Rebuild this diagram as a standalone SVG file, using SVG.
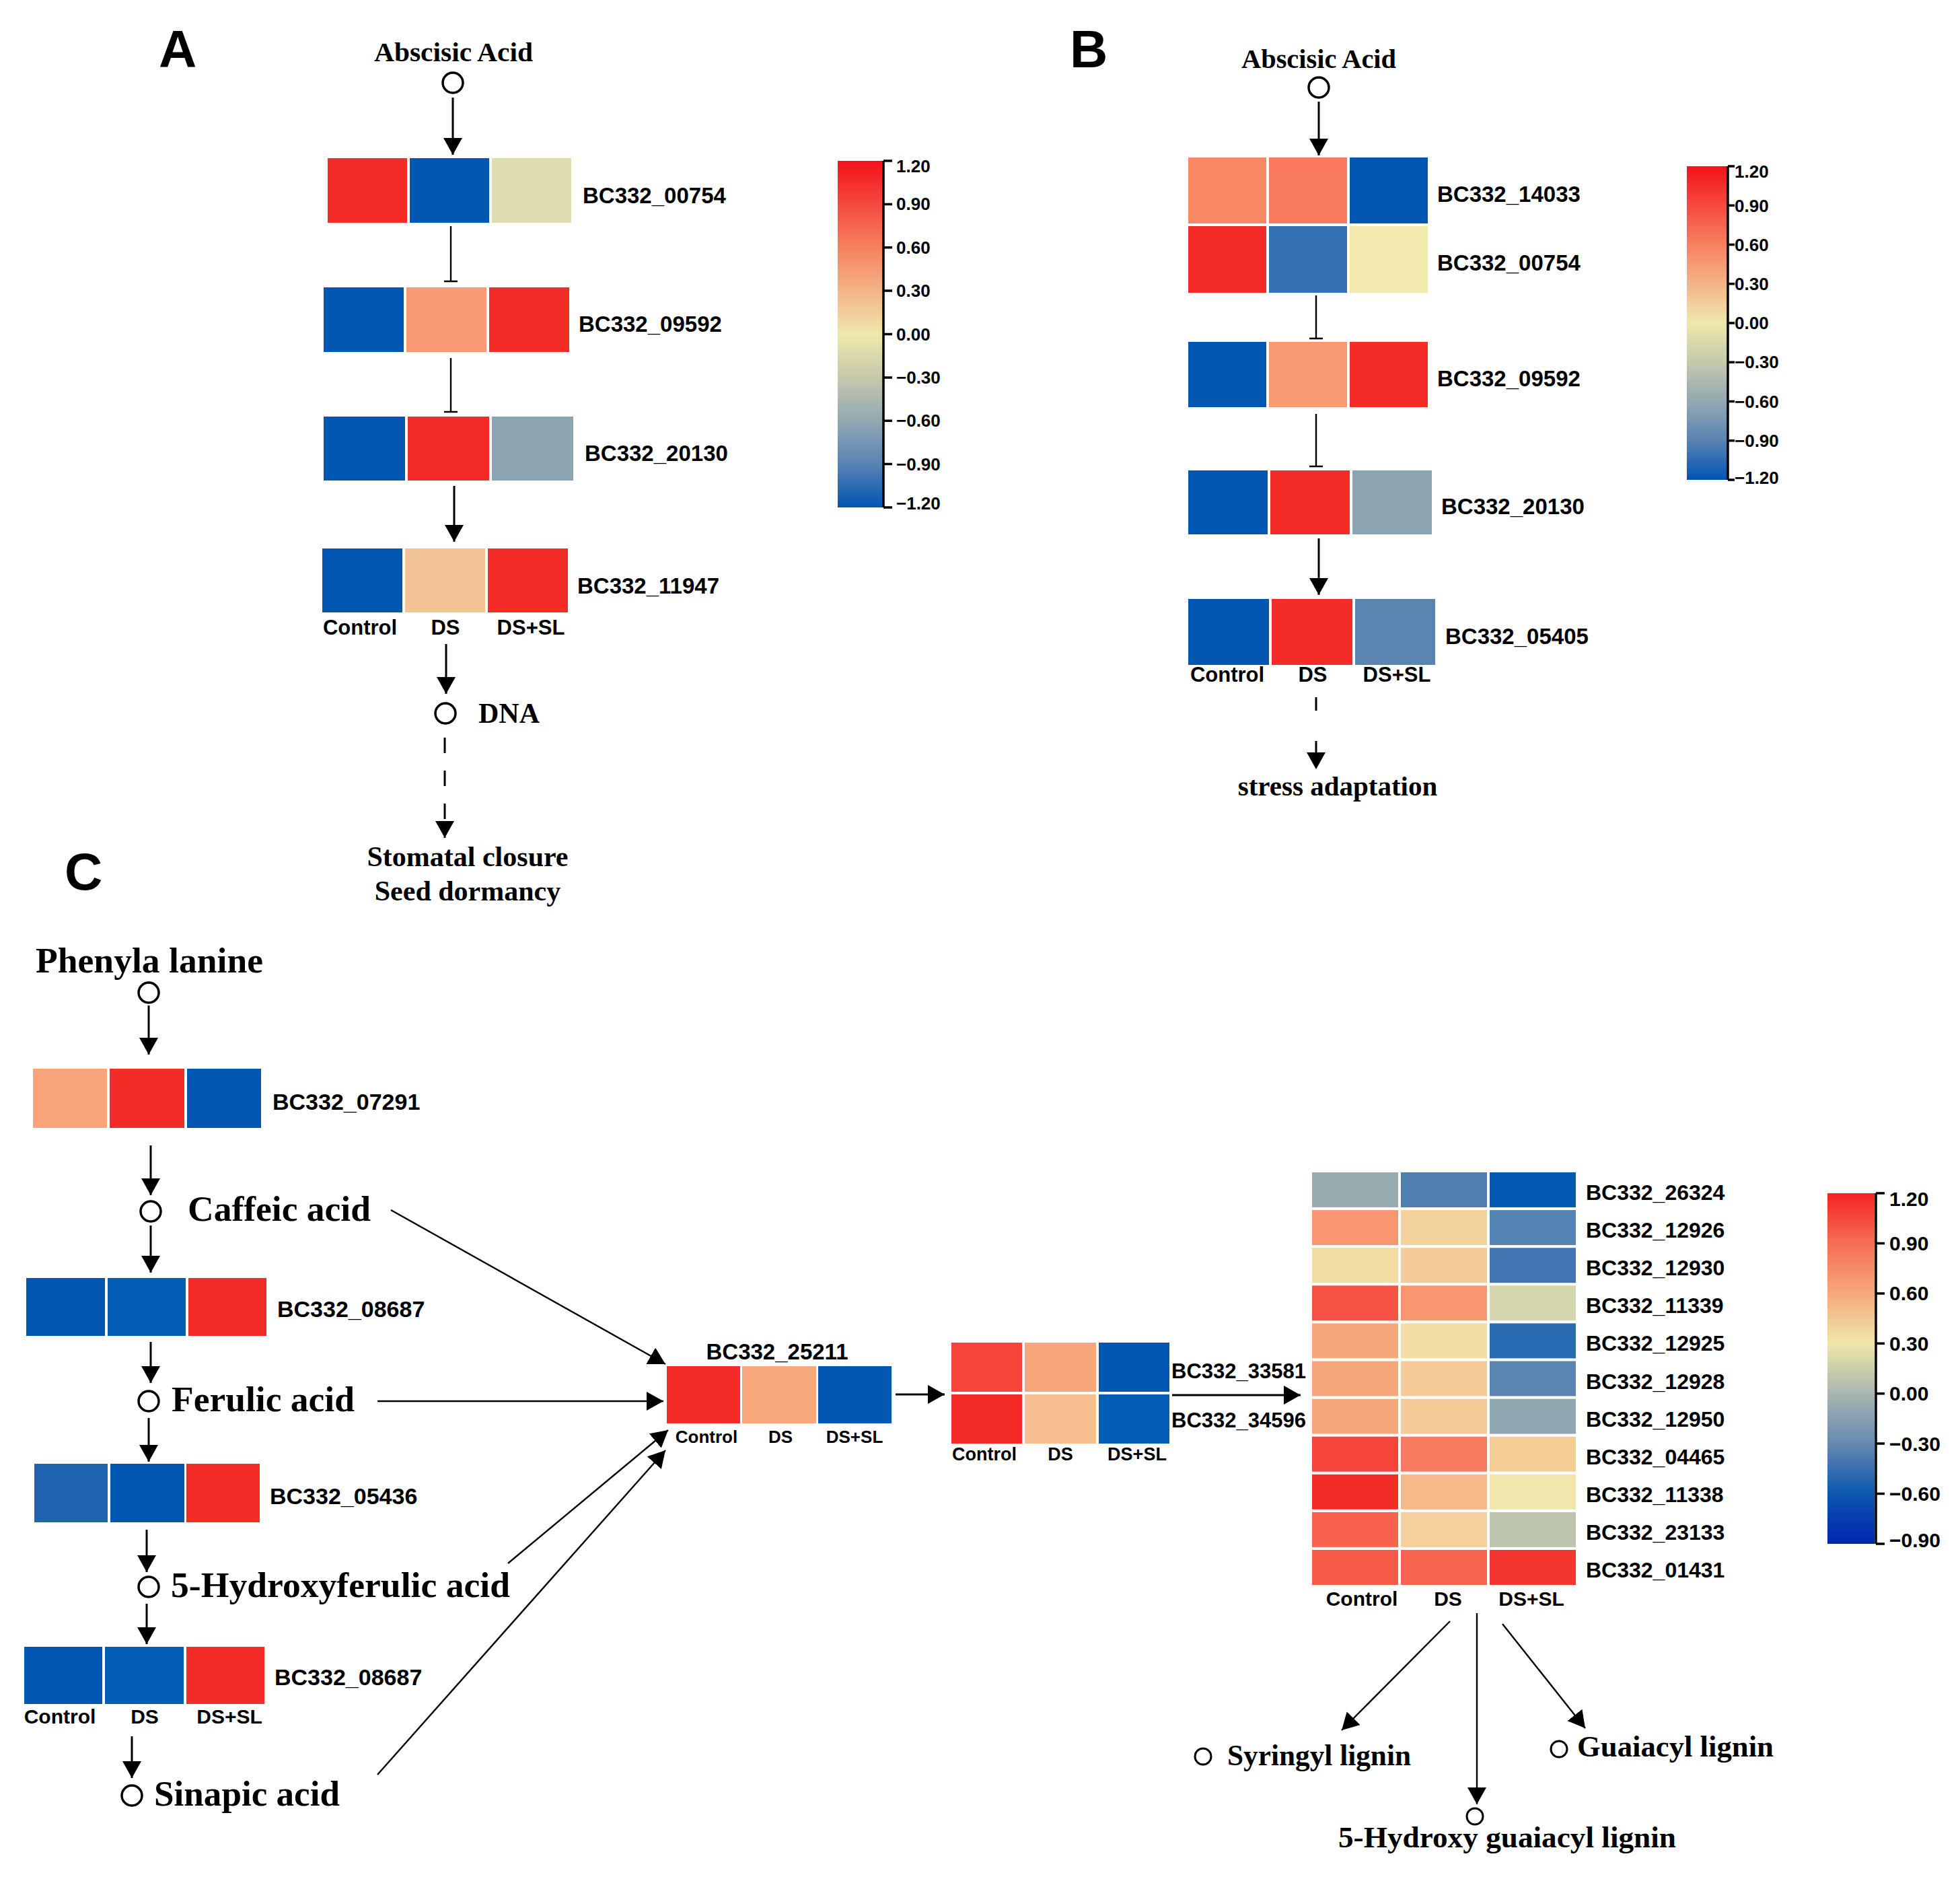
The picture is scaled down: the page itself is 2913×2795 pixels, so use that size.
<svg xmlns="http://www.w3.org/2000/svg" width="2913" height="2795" viewBox="0 0 2913 2795">
<defs>
<style>
.g{font-family:"Liberation Sans",Arial,sans-serif;font-weight:bold;fill:#000}
.s{font-family:"Liberation Serif","Times New Roman",serif;font-weight:bold;fill:#000}
.ln{stroke:#000;stroke-width:3;fill:none}
.thin{stroke:#000;stroke-width:2.4;fill:none}
.ar{marker-end:url(#ah)}
.c{fill:#fff;stroke:#000;stroke-width:3.5}
.cs{fill:#fff;stroke:#000;stroke-width:3}
.ax{stroke:#000;stroke-width:3.5;fill:none}
</style>
<marker id="ah" markerUnits="userSpaceOnUse" markerWidth="26" markerHeight="30" refX="25" refY="14" orient="auto"><path d="M0,0 L25,14 L0,28 Z" fill="#000"/></marker>
<linearGradient id="gAB" x1="0" y1="0" x2="0" y2="1">
<stop offset="0" stop-color="#F4111A"/><stop offset="0.125" stop-color="#F54A3E"/><stop offset="0.25" stop-color="#F7815E"/><stop offset="0.375" stop-color="#F4B487"/><stop offset="0.5" stop-color="#EFE8AB"/><stop offset="0.625" stop-color="#C5C8AC"/><stop offset="0.75" stop-color="#93A8B2"/><stop offset="0.875" stop-color="#5883B3"/><stop offset="1" stop-color="#0254B3"/>
</linearGradient>
<linearGradient id="gC" x1="0" y1="0" x2="0" y2="1">
<stop offset="0" stop-color="#F42422"/><stop offset="0.143" stop-color="#F76D55"/><stop offset="0.286" stop-color="#F5A87E"/><stop offset="0.429" stop-color="#EFE7A9"/><stop offset="0.571" stop-color="#A8B6AF"/><stop offset="0.714" stop-color="#6689B1"/><stop offset="0.857" stop-color="#0B57B0"/><stop offset="1" stop-color="#0224B0"/>
</linearGradient>
</defs>
<rect width="2913" height="2795" fill="#fff"/>

<!-- Panel letters -->
<g id="panel-A"><text class="g" x="236" y="100" font-size="78">A</text></g>
<g id="panel-B"><text class="g" x="1590" y="100" font-size="78">B</text></g>
<g id="panel-C"><text class="g" x="96" y="1322" font-size="78">C</text></g>

<!-- ================= Panel A ================= -->
<g id="A-aba"><text class="s" x="674" y="91" font-size="41" text-anchor="middle" textLength="236" lengthAdjust="spacingAndGlyphs">Abscisic Acid</text><circle class="c" cx="673" cy="123" r="15"/></g>
<g id="A-00754">
<rect x="487" y="235" width="118" height="96" fill="#F42C27"/><rect x="609" y="235" width="118" height="96" fill="#0257B3"/><rect x="731" y="235" width="118" height="96" fill="#DDDDAF"/>
<text class="g" x="866" y="302" font-size="33">BC332_00754</text></g>
<g id="A-09592">
<rect x="481" y="427" width="119" height="96" fill="#0257B3"/><rect x="604" y="427" width="119" height="96" fill="#F89B74"/><rect x="727" y="427" width="119" height="96" fill="#F42C27"/>
<text class="g" x="860" y="493" font-size="33">BC332_09592</text></g>
<g id="A-20130">
<rect x="481" y="619" width="121" height="95" fill="#0257B3"/><rect x="606" y="619" width="121" height="95" fill="#F42C27"/><rect x="731" y="619" width="121" height="95" fill="#8AA4B1"/>
<text class="g" x="869" y="685" font-size="33">BC332_20130</text></g>
<g id="A-11947">
<rect x="479" y="815" width="119" height="95" fill="#0257B3"/><rect x="602" y="815" width="119" height="95" fill="#F3C594"/><rect x="725" y="815" width="119" height="95" fill="#F42C27"/>
<text class="g" x="858" y="882" font-size="33">BC332_11947</text>
<text class="g" x="535" y="943" font-size="31" text-anchor="middle">Control</text><text class="g" x="662" y="943" font-size="31" text-anchor="middle">DS</text><text class="g" x="789" y="943" font-size="31" text-anchor="middle">DS+SL</text></g>
<g id="A-dna"><circle class="c" cx="662" cy="1060" r="15"/><text class="s" x="711" y="1074" font-size="42">DNA</text></g>
<g id="A-outcome"><text class="s" x="695" y="1287" font-size="42" text-anchor="middle">Stomatal closure</text><text class="s" x="695" y="1338" font-size="42" text-anchor="middle">Seed dormancy</text></g>
<g id="A-colorbar">
<rect x="1245" y="239" width="67" height="515" fill="url(#gAB)"/>
<path class="ax" d="M1313,239 V754 M1313,239 H1326 M1313,303.4 H1326 M1313,367.8 H1326 M1313,432.1 H1326 M1313,496.5 H1326 M1313,560.9 H1326 M1313,625.3 H1326 M1313,689.6 H1326 M1313,754 H1326"/>
<g class="g" font-size="26"><text x="1332" y="256">1.20</text><text x="1332" y="312">0.90</text><text x="1332" y="377">0.60</text><text x="1332" y="441">0.30</text><text x="1332" y="506">0.00</text><text x="1332" y="570">−0.30</text><text x="1332" y="634">−0.60</text><text x="1332" y="699">−0.90</text><text x="1332" y="757">−1.20</text></g>
</g>

<!-- ================= Panel B ================= -->
<g id="B-aba"><text class="s" x="1960" y="101" font-size="40" text-anchor="middle" textLength="230" lengthAdjust="spacingAndGlyphs">Abscisic Acid</text><circle class="c" cx="1960" cy="130" r="15"/></g>
<g id="B-14033">
<rect x="1766" y="234" width="116" height="98" fill="#F98865"/><rect x="1886" y="234" width="116" height="98" fill="#F97A5F"/><rect x="2006" y="234" width="116" height="98" fill="#0257B3"/>
<text class="g" x="2136" y="300" font-size="33">BC332_14033</text></g>
<g id="B-00754">
<rect x="1766" y="336" width="116" height="99" fill="#F42C27"/><rect x="1886" y="336" width="116" height="99" fill="#3672B3"/><rect x="2006" y="336" width="116" height="99" fill="#F2E9AC"/>
<text class="g" x="2136" y="402" font-size="33">BC332_00754</text></g>
<g id="B-09592">
<rect x="1766" y="508" width="116" height="97" fill="#0257B3"/><rect x="1886" y="508" width="116" height="97" fill="#F89B74"/><rect x="2006" y="508" width="116" height="97" fill="#F42C27"/>
<text class="g" x="2136" y="574" font-size="33">BC332_09592</text></g>
<g id="B-20130">
<rect x="1766" y="699" width="118" height="95" fill="#0257B3"/><rect x="1888" y="699" width="118" height="95" fill="#F42C27"/><rect x="2010" y="699" width="118" height="95" fill="#8AA4B1"/>
<text class="g" x="2142" y="764" font-size="33">BC332_20130</text></g>
<g id="B-05405">
<rect x="1766" y="890" width="120" height="98" fill="#0257B3"/><rect x="1890" y="890" width="120" height="98" fill="#F42C27"/><rect x="2014" y="890" width="119" height="98" fill="#5B84B1"/>
<text class="g" x="2148" y="957" font-size="33">BC332_05405</text>
<text class="g" x="1824" y="1013" font-size="31" text-anchor="middle">Control</text><text class="g" x="1951" y="1013" font-size="31" text-anchor="middle">DS</text><text class="g" x="2076" y="1013" font-size="31" text-anchor="middle">DS+SL</text></g>
<g id="B-outcome"><text class="s" x="1988" y="1182" font-size="41" text-anchor="middle">stress adaptation</text></g>
<g id="B-colorbar">
<rect x="2507" y="247" width="60" height="466" fill="url(#gAB)"/>
<path class="ax" d="M2568,247 V713 M2568,247 H2578 M2568,305.25 H2578 M2568,363.5 H2578 M2568,421.75 H2578 M2568,480 H2578 M2568,538.25 H2578 M2568,596.5 H2578 M2568,654.75 H2578 M2568,713 H2578"/>
<g class="g" font-size="26"><text x="2578" y="264">1.20</text><text x="2578" y="315">0.90</text><text x="2578" y="373">0.60</text><text x="2578" y="431">0.30</text><text x="2578" y="489">0.00</text><text x="2578" y="547">−0.30</text><text x="2578" y="606">−0.60</text><text x="2578" y="664">−0.90</text><text x="2578" y="719">−1.20</text></g>
</g>

<!-- ================= Panel C ================= -->
<g id="C-phe"><text class="s" x="53" y="1445" font-size="53" textLength="338" lengthAdjust="spacingAndGlyphs">Phenyla lanine</text><circle class="c" cx="221" cy="1475" r="15"/></g>
<g id="C-07291">
<rect x="49" y="1588" width="110" height="88" fill="#F8A37A"/><rect x="163" y="1588" width="111" height="88" fill="#F42C27"/><rect x="278" y="1588" width="110" height="88" fill="#0257B3"/>
<text class="g" x="405" y="1649" font-size="34">BC332_07291</text></g>
<g id="C-caffeic"><circle class="c" cx="224" cy="1800" r="15"/><text class="s" x="279" y="1814" font-size="53" textLength="272" lengthAdjust="spacingAndGlyphs">Caffeic acid</text></g>
<g id="C-08687a">
<rect x="39" y="1899" width="117" height="86" fill="#0257B3"/><rect x="160" y="1899" width="116" height="86" fill="#045EB4"/><rect x="280" y="1899" width="116" height="86" fill="#F42C27"/>
<text class="g" x="412" y="1957" font-size="34">BC332_08687</text></g>
<g id="C-ferulic"><circle class="c" cx="221" cy="2082" r="15"/><text class="s" x="255" y="2097" font-size="53" textLength="272" lengthAdjust="spacingAndGlyphs">Ferulic acid</text></g>
<g id="C-05436">
<rect x="51" y="2175" width="109" height="87" fill="#2063AE"/><rect x="164" y="2175" width="110" height="87" fill="#0257B3"/><rect x="277" y="2175" width="109" height="87" fill="#F42C27"/>
<text class="g" x="401" y="2235" font-size="34">BC332_05436</text></g>
<g id="C-5hfa"><circle class="c" cx="221" cy="2358" r="15"/><text class="s" x="254" y="2373" font-size="53" textLength="504" lengthAdjust="spacingAndGlyphs">5-Hydroxyferulic acid</text></g>
<g id="C-08687b">
<rect x="36" y="2447" width="116" height="85" fill="#0257B3"/><rect x="156" y="2447" width="117" height="85" fill="#045EB4"/><rect x="277" y="2447" width="116" height="85" fill="#F42C27"/>
<text class="g" x="408" y="2504" font-size="34">BC332_08687</text>
<text class="g" x="89" y="2561" font-size="30" text-anchor="middle">Control</text><text class="g" x="215" y="2561" font-size="30" text-anchor="middle">DS</text><text class="g" x="341" y="2561" font-size="30" text-anchor="middle">DS+SL</text></g>
<g id="C-sinapic"><circle class="c" cx="196" cy="2668" r="15"/><text class="s" x="229" y="2683" font-size="53" textLength="276" lengthAdjust="spacingAndGlyphs">Sinapic acid</text></g>

<g id="C-25211">
<text class="g" x="1155" y="2020" font-size="33" text-anchor="middle">BC332_25211</text>
<rect x="991" y="2030" width="109" height="85" fill="#F42C27"/><rect x="1103" y="2030" width="110" height="85" fill="#F8A87D"/><rect x="1216" y="2030" width="109" height="85" fill="#0257B3"/>
<text class="g" x="1050" y="2144" font-size="26" text-anchor="middle">Control</text><text class="g" x="1160" y="2144" font-size="26" text-anchor="middle">DS</text><text class="g" x="1270" y="2144" font-size="26" text-anchor="middle">DS+SL</text></g>

<g id="C-33581-34596">
<rect x="1414" y="1995" width="105" height="73" fill="#F54539"/><rect x="1523" y="1995" width="106" height="73" fill="#F8A67B"/><rect x="1633" y="1995" width="105" height="73" fill="#0257B3"/>
<rect x="1414" y="2072" width="105" height="73" fill="#F42C27"/><rect x="1523" y="2072" width="106" height="73" fill="#F7BE8F"/><rect x="1633" y="2072" width="105" height="73" fill="#045DB4"/>
<text class="g" x="1741" y="2048" font-size="31">BC332_33581</text><text class="g" x="1741" y="2121" font-size="31">BC332_34596</text>
<text class="g" x="1463" y="2170" font-size="27" text-anchor="middle">Control</text><text class="g" x="1576" y="2170" font-size="27" text-anchor="middle">DS</text><text class="g" x="1690" y="2170" font-size="27" text-anchor="middle">DS+SL</text></g>

<g id="C-lignin-genes">
<rect x="1950" y="1742" width="128" height="52" fill="#98ABB0"/><rect x="2082" y="1742" width="128" height="52" fill="#4F7FB0"/><rect x="2214" y="1742" width="128" height="52" fill="#0358B4"/>
<rect x="1950" y="1798.1" width="128" height="52" fill="#F99570"/><rect x="2082" y="1798.1" width="128" height="52" fill="#F4D29C"/><rect x="2214" y="1798.1" width="128" height="52" fill="#5583B2"/>
<rect x="1950" y="1854.2" width="128" height="52" fill="#F4DDA3"/><rect x="2082" y="1854.2" width="128" height="52" fill="#F5CA96"/><rect x="2214" y="1854.2" width="128" height="52" fill="#4475B2"/>
<rect x="1950" y="1910.3" width="128" height="52" fill="#F65346"/><rect x="2082" y="1910.3" width="128" height="52" fill="#F7966F"/><rect x="2214" y="1910.3" width="128" height="52" fill="#D5D5AF"/>
<rect x="1950" y="1966.4" width="128" height="52" fill="#F7A77C"/><rect x="2082" y="1966.4" width="128" height="52" fill="#F4DDA3"/><rect x="2214" y="1966.4" width="128" height="52" fill="#2A6CB3"/>
<rect x="1950" y="2022.5" width="128" height="52" fill="#F7A77C"/><rect x="2082" y="2022.5" width="128" height="52" fill="#F5CA96"/><rect x="2214" y="2022.5" width="128" height="52" fill="#5B84B1"/>
<rect x="1950" y="2078.6" width="128" height="52" fill="#F7A77C"/><rect x="2082" y="2078.6" width="128" height="52" fill="#F5CA96"/><rect x="2214" y="2078.6" width="128" height="52" fill="#8EA7B0"/>
<rect x="1950" y="2134.7" width="128" height="52" fill="#F5453A"/><rect x="2082" y="2134.7" width="128" height="52" fill="#F97A5F"/><rect x="2214" y="2134.7" width="128" height="52" fill="#F5CE97"/>
<rect x="1950" y="2190.8" width="128" height="52" fill="#F42C27"/><rect x="2082" y="2190.8" width="128" height="52" fill="#F7B98A"/><rect x="2214" y="2190.8" width="128" height="52" fill="#F2E7AA"/>
<rect x="1950" y="2246.9" width="128" height="52" fill="#F86350"/><rect x="2082" y="2246.9" width="128" height="52" fill="#F5D09B"/><rect x="2214" y="2246.9" width="128" height="52" fill="#BCC3AF"/>
<rect x="1950" y="2303" width="128" height="52" fill="#F75A48"/><rect x="2082" y="2303" width="128" height="52" fill="#F76551"/><rect x="2214" y="2303" width="128" height="52" fill="#F43530"/>
<g class="g" font-size="32">
<text x="2357" y="1783">BC332_26324</text><text x="2357" y="1839">BC332_12926</text><text x="2357" y="1895">BC332_12930</text><text x="2357" y="1951">BC332_11339</text><text x="2357" y="2007">BC332_12925</text><text x="2357" y="2064">BC332_12928</text><text x="2357" y="2120">BC332_12950</text><text x="2357" y="2176">BC332_04465</text><text x="2357" y="2232">BC332_11338</text><text x="2357" y="2288">BC332_23133</text><text x="2357" y="2344">BC332_01431</text>
</g>
<text class="g" x="2024" y="2386" font-size="30" text-anchor="middle">Control</text><text class="g" x="2152" y="2386" font-size="30" text-anchor="middle">DS</text><text class="g" x="2276" y="2386" font-size="30" text-anchor="middle">DS+SL</text>
</g>

<g id="C-syringyl"><circle class="cs" cx="1788" cy="2610" r="12"/><text class="s" x="1824" y="2623" font-size="45" textLength="273" lengthAdjust="spacingAndGlyphs">Syringyl lignin</text></g>
<g id="C-guaiacyl"><circle class="cs" cx="2317" cy="2599" r="12"/><text class="s" x="2344" y="2610" font-size="45" textLength="292" lengthAdjust="spacingAndGlyphs">Guaiacyl lignin</text></g>
<g id="C-5hg"><circle class="cs" cx="2192" cy="2699" r="12"/><text class="s" x="1989" y="2745" font-size="45" textLength="502" lengthAdjust="spacingAndGlyphs">5-Hydroxy guaiacyl lignin</text></g>

<g id="C-colorbar">
<rect x="2716" y="1773" width="70" height="521" fill="url(#gC)"/>
<path class="ax" d="M2788,1773 V2294 M2788,1773 H2801 M2788,1847.4 H2801 M2788,1921.9 H2801 M2788,1996.3 H2801 M2788,2070.7 H2801 M2788,2145.1 H2801 M2788,2219.6 H2801 M2788,2294 H2801"/>
<g class="g" font-size="30"><text x="2808" y="1792">1.20</text><text x="2808" y="1858">0.90</text><text x="2808" y="1932">0.60</text><text x="2808" y="2007">0.30</text><text x="2808" y="2081">0.00</text><text x="2808" y="2156">−0.30</text><text x="2808" y="2230">−0.60</text><text x="2808" y="2299">−0.90</text></g>
</g>

<!-- ================= Connectors ================= -->
<g id="connectors">
<!-- A -->
<line class="ln ar" x1="673" y1="145" x2="673" y2="230"/>
<path class="thin" d="M670,336 V418 M660,418 H680"/>
<path class="thin" d="M670,532 V612 M660,612 H680"/>
<line class="ln ar" x1="675" y1="722" x2="675" y2="805"/>
<line class="ln ar" x1="663" y1="957" x2="663" y2="1031"/>
<line class="ln ar" x1="661" y1="1096" x2="661" y2="1245" stroke-dasharray="23 26"/>
<!-- B -->
<line class="ln ar" x1="1960" y1="151" x2="1960" y2="231"/>
<path class="thin" d="M1956,439 V503 M1946,503 H1966"/>
<path class="thin" d="M1956,615 V693 M1946,693 H1966"/>
<line class="ln ar" x1="1960" y1="800" x2="1960" y2="884"/>
<line class="ln ar" x1="1956" y1="1036" x2="1956" y2="1143" stroke-dasharray="20 45"/>
<!-- C left chain -->
<line class="ln ar" x1="221" y1="1494" x2="221" y2="1567"/>
<line class="ln ar" x1="224" y1="1702" x2="224" y2="1776"/>
<line class="ln ar" x1="224" y1="1821" x2="224" y2="1891"/>
<line class="ln ar" x1="224" y1="1994" x2="224" y2="2055"/>
<line class="ln ar" x1="221" y1="2107" x2="221" y2="2172"/>
<line class="ln ar" x1="218" y1="2273" x2="218" y2="2336"/>
<line class="ln ar" x1="218" y1="2383" x2="218" y2="2443"/>
<line class="ln ar" x1="196" y1="2580" x2="196" y2="2642"/>
<!-- C to BC332_25211 -->
<line class="thin ar" x1="581" y1="1798" x2="989" y2="2027"/>
<line class="thin ar" x1="561" y1="2082" x2="986" y2="2082"/>
<line class="thin ar" x1="755" y1="2323" x2="993" y2="2125"/>
<line class="thin ar" x1="561" y1="2637" x2="989" y2="2155"/>
<!-- C middle -->
<line class="ln ar" x1="1331" y1="2072" x2="1404" y2="2072"/>
<line class="ln ar" x1="1742" y1="2073" x2="1933" y2="2073"/>
<!-- C to lignins -->
<line class="thin ar" x1="2155" y1="2409" x2="1994" y2="2571"/>
<line class="thin ar" x1="2195" y1="2397" x2="2195" y2="2681"/>
<line class="thin ar" x1="2233" y1="2413" x2="2356" y2="2568"/>
</g>
</svg>
